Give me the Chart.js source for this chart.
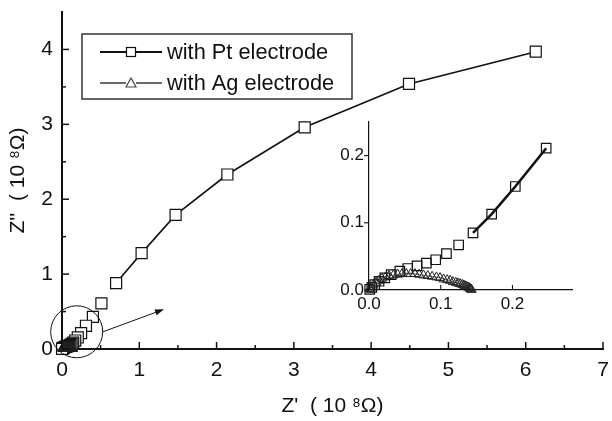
<!DOCTYPE html>
<html><head><meta charset="utf-8">
<script src="https://cdn.jsdelivr.net/npm/chart.js@4.4.0/dist/chart.umd.min.js"></script>
<style>
html,body{margin:0;padding:0;background:#fff;}
#wrap{position:relative;width:612px;height:421px;overflow:hidden;}
#main{position:absolute;left:0;top:0;}
#inset{position:absolute;left:310px;top:105px;}
</style></head><body>
<div id="wrap"><canvas id="main" width="612" height="421"></canvas><canvas id="inset" width="290" height="215"></canvas></div>
<script>
// ---- data ----
const seriesLabels = ['with Pt electrode', 'with Ag electrode'];
const ptX = [6.13, 4.49, 3.14, 2.14, 1.47, 1.03, 0.70, 0.51, 0.40, 0.31, 0.247, 0.204, 0.171, 0.145, 0.125, 0.108, 0.093, 0.080, 0.067, 0.054, 0.043, 0.031, 0.022, 0.014, 0.008, 0.004, 0.001];
const ptY = [3.97, 3.54, 2.96, 2.33, 1.79, 1.28, 0.88, 0.61, 0.43, 0.31, 0.211, 0.154, 0.113, 0.085, 0.067, 0.054, 0.045, 0.040, 0.036, 0.032, 0.028, 0.023, 0.018, 0.013, 0.008, 0.004, 0.001];
const agX = [0.001, 0.002, 0.003, 0.006, 0.010, 0.014, 0.018, 0.023, 0.028, 0.034, 0.040, 0.046, 0.052, 0.058, 0.064, 0.070, 0.076, 0.082, 0.088, 0.094, 0.099, 0.104, 0.109, 0.113, 0.117, 0.121, 0.124, 0.127, 0.130, 0.132, 0.134, 0.136, 0.138, 0.140, 0.141, 0.142, 0.143];
const agY = [0.001, 0.002, 0.004, 0.008, 0.011, 0.014, 0.017, 0.019, 0.021, 0.022, 0.023, 0.024, 0.024, 0.024, 0.024, 0.023, 0.022, 0.021, 0.020, 0.019, 0.018, 0.016, 0.015, 0.014, 0.012, 0.011, 0.010, 0.009, 0.008, 0.007, 0.006, 0.005, 0.004, 0.003, 0.002, 0.001, 0.0005];
const mainXTicks = [0, 1, 2, 3, 4, 5, 6, 7];
const mainYTicks = [0, 1, 2, 3, 4];
const mainXMinor = [0.5, 1.5, 2.5, 3.5, 4.5, 5.5, 6.5];
const mainYMinor = [0.5, 1.5, 2.5, 3.5];
const insetXTicks = [0, 0.1, 0.2];
const insetYTicks = [0, 0.1, 0.2];
const xTitle = "Z'  ( 10 \u2078\u03A9)";
const yTitle = "Z''  ( 10 \u2078\u03A9)";
const circleCenter = [0.19, 0.23];
const arrowFrom = [0.53, 0.23];
const arrowTo = [1.32, 0.53];

// ---- styling ----
const FONT = "'Liberation Sans', Arial, Helvetica, sans-serif";
const INK = '#111';
const AG_COLOR = '#6a6a6a';

function pts(xs, ys, filt) {
  const out = [];
  xs.forEach((x, i) => { if (!filt || filt(x, ys[i])) out.push({x: x, y: ys[i]}); });
  return out;
}
function segRule(thr, color) {
  return ctx => (Math.min(ctx.p0.parsed.x, ctx.p1.parsed.x) >= thr ? color : 'rgba(0,0,0,0)');
}

function tickPlugin(o) {
  return {
    id: 'customTicks',
    afterDraw(chart) {
      const c = chart.ctx, xs = chart.scales.x, ys = chart.scales.y;
      c.save();
      c.strokeStyle = INK; c.lineWidth = o.w;
      const line = (a, b, d, e) => { c.beginPath(); c.moveTo(a, b); c.lineTo(d, e); c.stroke(); };
      o.xMajor.forEach(v => { const p = xs.getPixelForValue(v); line(p, ys.bottom, p, ys.bottom + o.xDir * o.majLen); });
      (o.xMinor || []).forEach(v => { const p = xs.getPixelForValue(v); line(p, ys.bottom, p, ys.bottom + o.xDir * o.minLen); });
      o.yMajor.forEach(v => { const p = ys.getPixelForValue(v); line(xs.left, p, xs.left + o.yDir * o.majLen, p); });
      (o.yMinor || []).forEach(v => { const p = ys.getPixelForValue(v); line(xs.left, p, xs.left + o.yDir * o.minLen, p); });
      c.restore();
    }
  };
}

const annotPlugin = {
  id: 'annot',
  afterDatasetsDraw(chart) {
    const c = chart.ctx, xs = chart.scales.x, ys = chart.scales.y;
    c.save();
    c.strokeStyle = INK; c.lineWidth = 1;
    c.beginPath();
    c.arc(xs.getPixelForValue(circleCenter[0]), ys.getPixelForValue(circleCenter[1]), 26, 0, Math.PI * 2);
    c.stroke();
    const x0 = xs.getPixelForValue(arrowFrom[0]), y0 = ys.getPixelForValue(arrowFrom[1]);
    const x1 = xs.getPixelForValue(arrowTo[0]), y1 = ys.getPixelForValue(arrowTo[1]);
    const ang = Math.atan2(y1 - y0, x1 - x0);
    c.beginPath(); c.moveTo(x0, y0); c.lineTo(x1 - 6 * Math.cos(ang), y1 - 6 * Math.sin(ang)); c.stroke();
    c.fillStyle = INK;
    c.beginPath();
    c.moveTo(x1, y1);
    c.lineTo(x1 - 9 * Math.cos(ang) + 3 * Math.sin(ang), y1 - 9 * Math.sin(ang) - 3 * Math.cos(ang));
    c.lineTo(x1 - 9 * Math.cos(ang) - 3 * Math.sin(ang), y1 - 9 * Math.sin(ang) + 3 * Math.cos(ang));
    c.closePath(); c.fill();
    c.restore();
  }
};

const legendPlugin = {
  id: 'boxLegend',
  afterDraw(chart) {
    const c = chart.ctx;
    c.save();
    c.strokeStyle = '#333'; c.lineWidth = 1.5;
    c.strokeRect(82, 34, 270, 65);
    const rows = [52, 83];
    chart.data.datasets.forEach((ds, i) => {
      const y = rows[i];
      c.strokeStyle = i === 0 ? INK : AG_COLOR;
      c.lineWidth = 2.2;
      c.beginPath(); c.moveTo(100, y); c.lineTo(126, y); c.moveTo(136, y); c.lineTo(162, y); c.stroke();
      c.lineWidth = 1.2; c.strokeStyle = i === 0 ? INK : '#444';
      c.fillStyle = '#fff';
      if (i === 0) { c.fillRect(126.5, y - 4.5, 9, 9); c.strokeRect(126.5, y - 4.5, 9, 9); }
      else { c.beginPath(); c.moveTo(131, y - 5); c.lineTo(136, y + 4); c.lineTo(126, y + 4); c.closePath(); c.fill(); c.stroke(); }
      c.fillStyle = INK; c.font = '21.8px ' + FONT; c.textBaseline = 'middle'; c.textAlign = 'left';
      c.fillText(ds.label, 167, y + 1);
    });
    c.restore();
  }
};

// ---- main chart ----
new Chart(document.getElementById('main'), {
  type: 'scatter',
  data: {
    datasets: [
      {
        label: seriesLabels[0], data: pts(ptX, ptY), showLine: true,
        borderColor: INK, borderWidth: 1.6,
        segment: { borderColor: segRule(0.7, INK) },
        pointStyle: 'rect', pointRadius: 7.8, pointBorderWidth: 1.2,
        pointBorderColor: INK, pointBackgroundColor: '#fff', clip: false, order: 2
      },
      {
        label: seriesLabels[1], data: pts(agX, agY), showLine: true,
        borderColor: AG_COLOR, borderWidth: 1,
        pointStyle: 'triangle', pointRadius: 5, pointBorderWidth: 1,
        pointBorderColor: '#222', pointBackgroundColor: 'rgba(0,0,0,0)', clip: false, order: 1
      }
    ]
  },
  options: {
    responsive: false, animation: false, devicePixelRatio: 1,
    layout: { padding: { top: 12, right: 6, left: 0, bottom: 0 } },
    plugins: { legend: { display: false }, tooltip: { enabled: false } },
    scales: {
      x: {
        type: 'linear', min: 0, max: 7,
        afterBuildTicks: s => { s.ticks = mainXTicks.map(v => ({value: v})); },
        afterFit: s => { s.height = 72; s.paddingLeft = 0; s.paddingRight = 0; },
        grid: { display: false, drawTicks: false },
        border: { display: true, color: INK, width: 2 },
        ticks: { color: INK, font: { size: 21, family: FONT }, padding: 9, maxRotation: 0, autoSkip: false, callback: v => String(v) },
        title: { display: true, text: xTitle, color: INK, font: { size: 21, family: FONT }, padding: { top: 0, bottom: 2 } }
      },
      y: {
        type: 'linear', min: 0, max: 4.5,
        afterBuildTicks: s => { s.ticks = mainYTicks.map(v => ({value: v})); },
        afterFit: s => { s.width = 62; s.paddingTop = 0; s.paddingBottom = 0; },
        grid: { display: false, drawTicks: false },
        border: { display: true, color: INK, width: 2 },
        ticks: { color: INK, font: { size: 21, family: FONT }, padding: 9, autoSkip: false, callback: v => String(v) },
        title: { display: true, text: yTitle, color: INK, font: { size: 21, family: FONT }, padding: { top: 6, bottom: 0 } }
      }
    }
  },
  plugins: [tickPlugin({ w: 1.5, xDir: -1, yDir: 1, majLen: 7, minLen: 4, xMajor: mainXTicks, xMinor: mainXMinor, yMajor: mainYTicks, yMinor: mainYMinor }), annotPlugin, legendPlugin]
});

// ---- inset chart ----
new Chart(document.getElementById('inset'), {
  type: 'scatter',
  data: {
    datasets: [
      {
        label: seriesLabels[0], data: pts(ptX, ptY, (x, y) => x <= 0.25), showLine: true,
        borderColor: INK, borderWidth: 2.6,
        segment: { borderColor: segRule(0.14, INK) },
        pointStyle: 'rect', pointRadius: 6.7, pointBorderWidth: 1.2,
        pointBorderColor: INK, pointBackgroundColor: 'rgba(255,255,255,0)', clip: false, order: 2
      },
      {
        label: seriesLabels[1], data: pts(agX, agY), showLine: true,
        borderColor: AG_COLOR, borderWidth: 1,
        pointStyle: 'triangle', pointRadius: 5.3, pointBorderWidth: 1,
        pointBorderColor: '#222', pointBackgroundColor: 'rgba(0,0,0,0)', clip: false, order: 1
      }
    ]
  },
  options: {
    responsive: false, animation: false, devicePixelRatio: 1,
    layout: { padding: { top: 17, right: 28, left: 0, bottom: 0 } },
    plugins: { legend: { display: false }, tooltip: { enabled: false } },
    scales: {
      x: {
        type: 'linear', min: 0, max: 0.283,
        afterBuildTicks: s => { s.ticks = insetXTicks.map(v => ({value: v})); },
        afterFit: s => { s.height = 30; s.paddingLeft = 0; s.paddingRight = 0; },
        grid: { display: false, drawTicks: false },
        border: { display: true, color: INK, width: 1.2 },
        ticks: { color: INK, font: { size: 17, family: FONT }, padding: 4, maxRotation: 0, autoSkip: false, callback: v => v.toFixed(1) }
      },
      y: {
        type: 'linear', min: 0, max: 0.25,
        afterBuildTicks: s => { s.ticks = insetYTicks.map(v => ({value: v})); },
        afterFit: s => { s.width = 59; s.paddingTop = 0; s.paddingBottom = 0; },
        grid: { display: false, drawTicks: false },
        border: { display: true, color: INK, width: 1.2 },
        ticks: { color: INK, font: { size: 17, family: FONT }, padding: 5, autoSkip: false, callback: v => v.toFixed(1) }
      }
    }
  },
  plugins: [tickPlugin({ w: 1.1, xDir: -1, yDir: -1, majLen: 5, minLen: 3, xMajor: insetXTicks, yMajor: insetYTicks })]
});
</script>
</body></html>
